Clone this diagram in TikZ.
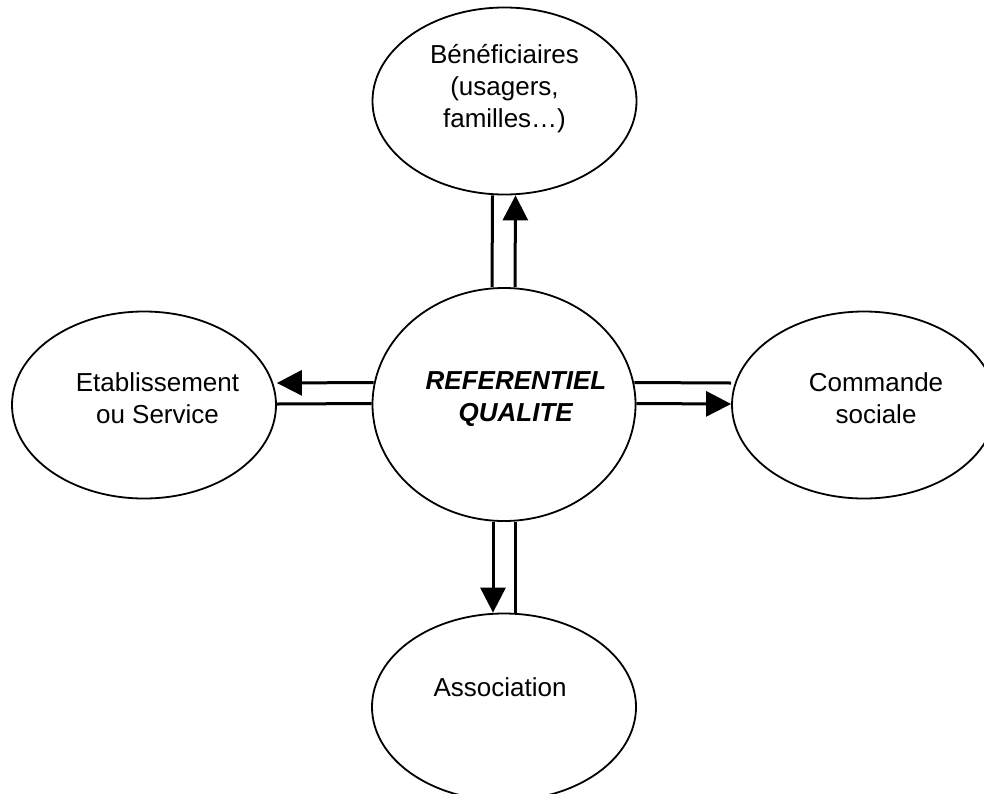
\documentclass[tikz,border=0pt]{standalone}
\usepackage{fontspec}
\setmainfont{Liberation Sans}
\usetikzlibrary{shapes.geometric,arrows.meta}
\begin{document}
\begin{tikzpicture}[x=1pt,y=-1pt,
  oval/.style={ellipse,draw,line width=1.8pt,inner sep=0pt,minimum width=264pt,minimum height=187pt},
  lbl/.style={align=center,font=\fontsize{26pt}{32pt}\selectfont},
  conn/.style={line width=3pt},
  arr/.style={line width=3pt,-{Triangle[length=25pt,width=25pt]}}]
\useasboundingbox (0,0) rectangle (984,793);
\node[oval,minimum height=233pt,minimum width=263pt,
  label={[lbl,xshift=12pt,yshift=5.5pt]center:\textbf{\textit{REFERENTIEL}}\\\textbf{\textit{QUALITE}}}] (ref) at (504,404.5) {};
\node[oval,label={[lbl,yshift=12pt]center:Bénéficiaires\\(usagers,\\familles…)}] (ben) at (504.5,101) {};
\node[oval,label={[lbl,xshift=13.5pt,yshift=6.5pt]center:Etablissement\\ou Service}] (eta) at (144,405) {};
\node[oval,label={[lbl,xshift=12pt,yshift=6.5pt]center:Commande\\sociale}] (com) at (864,405) {};
\node[oval,label={[lbl,xshift=-4pt,yshift=19.5pt]center:Association}] (asso) at (504,707) {};
% top
\draw[conn] ([xshift=-12pt]ref.north) -- ([xshift=-12pt]ben.south);
\draw[arr] ([xshift=11pt]ref.north) -- ([xshift=11pt]ben.south);
% bottom
\draw[arr] ([xshift=-11pt]ref.south) -- ([xshift=-11pt]asso.north);
\draw[conn] ([xshift=11pt]ref.south) -- ([xshift=11pt]asso.north);
% left
\draw[arr] ([yshift=22pt,xshift=2pt]ref.west) -- ([yshift=22pt]eta.east);
\draw[conn] ([yshift=1pt]ref.west) -- ([yshift=1pt]eta.east);
% right
\draw[conn] ([yshift=22pt,xshift=-2pt]ref.east) -- ([yshift=22pt]com.west);
\draw[arr] ([yshift=1pt]ref.east) -- ([yshift=1pt]com.west);
\end{tikzpicture}
\end{document}
